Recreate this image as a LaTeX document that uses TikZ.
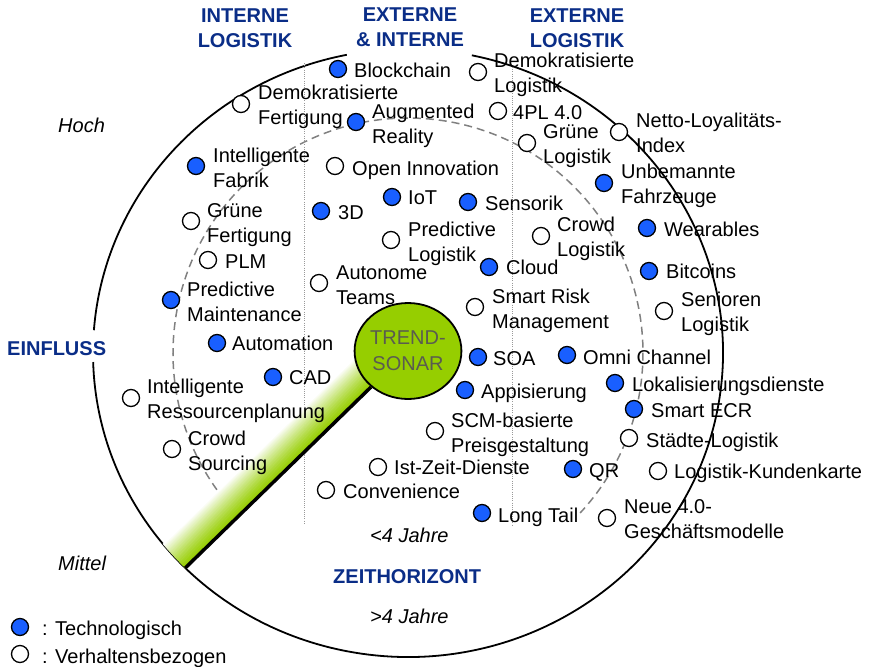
\documentclass[tikz,border=0pt]{standalone}
\usepackage{fontspec}
\setmainfont{Liberation Sans}
\usetikzlibrary{shapes.geometric,calc}
\definecolor{techblue}{RGB}{25,95,255}
\definecolor{headblue}{RGB}{10,45,135}
\definecolor{sonargreen}{RGB}{150,206,0}
\definecolor{sonartext}{RGB}{90,92,80}
\tikzset{
  tech/.style={circle,draw=black,line width=1.3pt,fill=techblue,minimum size=17pt,inner sep=0pt},
  behav/.style={circle,draw=black,line width=1.3pt,fill=white,minimum size=17pt,inner sep=0pt},
  % labels are anchored on the baseline of their last line
  item/.style={anchor=base west,inner sep=0pt,align=left,font=\fontsize{20}{24.3}\selectfont},
  head/.style={anchor=base,inner sep=0pt,align=center,text=headblue,font=\fontsize{20}{25}\selectfont\bfseries},
  headleft/.style={anchor=base west,inner sep=0pt,text=headblue,font=\fontsize{20}{25}\selectfont\bfseries},
  scalelabel/.style={anchor=base west,inner sep=0pt,font=\fontsize{20}{24}\selectfont\itshape},
  rim/.style={line width=1.8pt,black},
  ring/.style={line width=1.5pt,gray,dash pattern=on 8pt off 5pt},
  sector/.style={line width=0.8pt,gray!80,dash pattern=on 1pt off 1.2pt},
}
\begin{document}
\begin{tikzpicture}[x=1pt,y=-1pt]
\useasboundingbox (0,0) rectangle (871,667);
\coordinate (c) at (408,353);
\coordinate (n) at (-0.689,-0.7247);
\coordinate (u) at (-0.7247,0.689);

% outer rim, open where the headings sit
\draw[rim] ($(c)+(184.3:315 and 304)$) arc[start angle=184.3, end angle=258.8, x radius=315, y radius=304];
\draw[rim] ($(c)+(281.7:315 and 304)$) arc[start angle=281.7, end angle=538.3, x radius=315, y radius=304];

% inner dashed ring
\draw[ring] ($(c)+(144.4:235)$) arc[start angle=144.4, end angle=402.9, radius=235];

% sector separators
\draw[sector] (304,63) -- (304,525);
\draw[sector] (512,67) -- (512,525);

% sonar beam: green glow fading out on the leading side of the sweep line
\coordinate (rimpt) at ($(c)+(135:315 and 304)$);
\coordinate (beamstart) at (408,351);
\begin{scope}
  \clip (c) ellipse [x radius=315, y radius=304];
  \foreach \k in {0,...,32} {
    \pgfmathsetmacro\mix{100-100*(\k/32)^1.3}
    \draw[line width=1.4pt, color=sonargreen!\mix!white]
      ($(beamstart)+\k*(n)$) -- ($(rimpt)+\k*(n)+30*(u)$);
  }
\end{scope}

\node[ellipse,draw=black,line width=1.8pt,fill=sonargreen,minimum width=100pt,minimum height=96pt,inner sep=0pt,
      align=center,text=sonartext,font=\fontsize{20}{26}\selectfont] (sonar) at (408,351) {TREND-\\SONAR};
\draw[line width=3.5pt] (sonar) -- (rimpt);

% headings
\node[head] (hInt) at (245,47) {INTERNE\\LOGISTIK};
\node[head] (hMix) at (410,46) {EXTERNE\\\& INTERNE};
\node[head] (hExt) at (577,47) {EXTERNE\\LOGISTIK};
\node[headleft] (hEin) at (7,355) {EINFLUSS};
\node[headleft] (hZeit) at (333,583) {ZEITHORIZONT};
\node[scalelabel] (lHoch) at (58,132) {Hoch};
\node[scalelabel] (lMittel) at (58,570) {Mittel};
\node[scalelabel] (lKurz) at (370,542) {<4 Jahre};
\node[scalelabel] (lLang) at (370,623) {>4 Jahre};

% trend items: dot, then label
\node[tech]  (d1) at (338,69) {};  \node[item] (t1) at (354,77) {Blockchain};
\node[behav] (d2) at (241,104) {}; \node[item] (t2) at (258,124) {Demokratisierte\\Fertigung};
\node[tech]  (d3) at (356,122) {}; \node[item] (t3) at (372,143) {Augmented\\Reality};
\node[tech]  (d4) at (196,166) {}; \node[item] (t4) at (213,187) {Intelligente\\Fabrik};
\node[behav] (d5) at (335,166) {}; \node[item] (t5) at (352,175) {Open Innovation};
\node[tech]  (d6) at (392,197) {}; \node[item] (t6) at (408,204) {IoT};
\node[tech]  (d7) at (321,211) {}; \node[item] (t7) at (338,219) {3D};
\node[behav] (d8) at (191,221) {}; \node[item] (t8) at (207,242) {Grüne\\Fertigung};
\node[behav] (d9) at (208,260) {}; \node[item] (t9) at (225,268) {PLM};
\node[behav] (d10) at (391,240) {}; \node[item] (t10) at (408,261) {Predictive\\Logistik};
\node[behav] (d11) at (319,283) {}; \node[item] (t11) at (336,304) {Autonome\\Teams};
\node[tech]  (d12) at (171,300) {}; \node[item] (t12) at (187,321) {Predictive\\Maintenance};
\node[behav] (d13) at (478,72) {};  \node[item] (t13) at (494,92) {Demokratisierte\\Logistik};
\node[behav] (d14) at (498,111) {}; \node[item] (t14) at (513,119) {4PL 4.0};
\node[behav] (d15) at (527,143) {}; \node[item] (t15) at (543,163) {Grüne\\Logistik};
\node[behav] (d16) at (619,132) {}; \node[item] (t16) at (636,152) {Netto-Loyalitäts-\\Index};
\node[tech]  (d17) at (604,183) {}; \node[item] (t17) at (621,203) {Unbemannte\\Fahrzeuge};
\node[tech]  (d18) at (468,202) {}; \node[item] (t18) at (485,210) {Sensorik};
\node[behav] (d19) at (541,236) {}; \node[item] (t19) at (557,256) {Crowd\\Logistik};
\node[tech]  (d20) at (647,228) {}; \node[item] (t20) at (664,236) {Wearables};
\node[tech]  (d21) at (489,267) {}; \node[item] (t21) at (506,274) {Cloud};
\node[tech]  (d22) at (649,271) {}; \node[item] (t22) at (666,278) {Bitcoins};
\node[behav] (d23) at (475,307) {}; \node[item] (t23) at (492,328) {Smart Risk\\Management};
\node[behav] (d24) at (664,311) {}; \node[item] (t24) at (681,331) {Senioren\\Logistik};
\node[tech]  (d25) at (217,343) {}; \node[item] (t25) at (232,350) {Automation};
\node[tech]  (d26) at (273,377) {}; \node[item] (t26) at (289,384) {CAD};
\node[behav] (d27) at (131,398) {}; \node[item] (t27) at (147,418) {Intelligente\\Ressourcenplanung};
\node[behav] (d28) at (172,449) {}; \node[item] (t28) at (188,470) {Crowd\\Sourcing};
\node[behav] (d29) at (378,467) {}; \node[item] (t29) at (394,474) {Ist-Zeit-Dienste};
\node[behav] (d30) at (326,490) {}; \node[item] (t30) at (343,498) {Convenience};
\node[tech]  (d31) at (478,357) {}; \node[item] (t31) at (493,365) {SOA};
\node[tech]  (d32) at (567,355) {}; \node[item] (t32) at (583,364) {Omni Channel};
\node[tech]  (d33) at (465,390) {}; \node[item] (t33) at (481,398) {Appisierung};
\node[tech]  (d34) at (615,383) {}; \node[item] (t34) at (632,391) {Lokalisierungsdienste};
\node[tech]  (d35) at (634,409) {}; \node[item] (t35) at (651,417) {Smart ECR};
\node[behav] (d36) at (435,431) {}; \node[item] (t36) at (451,452) {SCM-basierte\\Preisgestaltung};
\node[behav] (d37) at (629,438) {}; \node[item] (t37) at (646,447) {Städte-Logistik};
\node[tech]  (d38) at (573,469) {}; \node[item] (t38) at (589,477) {QR};
\node[behav] (d39) at (658,471) {}; \node[item] (t39) at (674,478) {Logistik-Kundenkarte};
\node[tech]  (d40) at (482,513) {}; \node[item] (t40) at (498,522) {Long Tail};
\node[behav] (d41) at (607,518) {}; \node[item] (t41) at (624,538) {Neue 4.0-\\Geschäftsmodelle};

% legend
\node[tech]  (lg1) at (20,627) {}; \node[item] (lt1) at (42,635) {: Technologisch};
\node[behav] (lg2) at (20,654) {}; \node[item] (lt2) at (42,663) {: Verhaltensbezogen};
\end{tikzpicture}
\end{document}
